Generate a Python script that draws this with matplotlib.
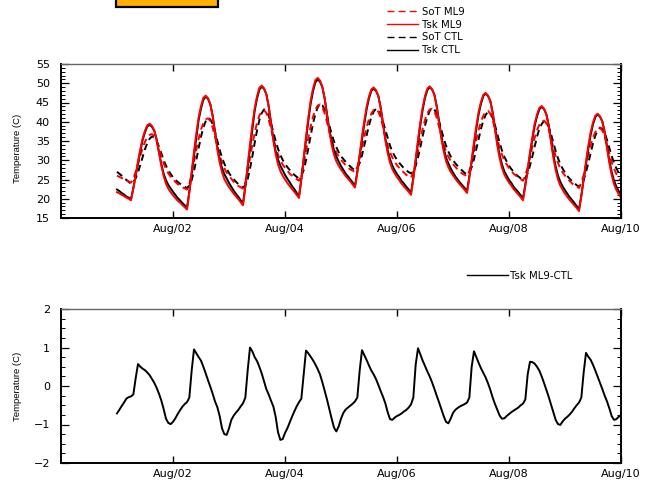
import numpy as np
import pandas as pd
import matplotlib
matplotlib.use("Agg")
import matplotlib.pyplot as plt
import matplotlib.dates as mdates
from matplotlib.lines import Line2D
from matplotlib.patches import Rectangle
from matplotlib.ticker import MultipleLocator

# ---------------- data (hourly, Aug 01 00:00 -> Aug 10 00:00) ----------------
times = pd.date_range("2010-08-01 00:00", "2010-08-10 00:00", freq="h")

tsk_ml9 = [
    21.7, 21.4, 21.0, 20.7, 20.3, 20.0, 19.6, 22.6, 26.2, 29.7, 32.9, 35.7, 37.7, 39.1, 39.5, 38.9, 37.7, 35.3, 31.9, 28.6, 25.9, 23.9, 22.6, 21.7,
    20.9, 20.2, 19.5, 19.0, 18.4, 17.8, 17.2, 21.6, 27.0, 32.3, 37.0, 41.2, 44.1, 46.2, 46.8, 46.1, 44.5, 41.4, 37.1, 32.8, 29.4, 26.9, 25.1, 24.0,
    23.0, 22.2, 21.3, 20.6, 19.9, 19.1, 18.3, 23.0, 28.6, 34.2, 39.1, 43.5, 46.6, 48.8, 49.4, 48.7, 47.1, 43.9, 39.5, 35.1, 31.6, 29.0, 27.2, 26.0,
    25.0, 24.1, 23.3, 22.5, 21.8, 21.0, 20.2, 24.9, 30.5, 36.1, 41.1, 45.5, 48.6, 50.8, 51.4, 50.7, 49.1, 46.0, 41.7, 37.4, 34.0, 31.5, 29.7, 28.6,
    27.6, 26.8, 25.9, 25.2, 24.5, 23.7, 22.9, 26.8, 31.5, 36.2, 40.3, 44.0, 46.6, 48.4, 48.9, 48.2, 46.7, 43.6, 39.4, 35.2, 31.9, 29.4, 27.7, 26.6,
    25.6, 24.8, 23.9, 23.2, 22.5, 21.8, 21.0, 25.2, 30.3, 35.4, 39.9, 43.8, 46.7, 48.6, 49.2, 48.5, 47.0, 43.9, 39.8, 35.6, 32.3, 29.8, 28.2, 27.0,
    26.1, 25.2, 24.4, 23.7, 23.0, 22.3, 21.5, 25.4, 30.1, 34.8, 38.9, 42.6, 45.2, 47.0, 47.5, 46.8, 45.3, 42.2, 38.0, 33.8, 30.5, 28.0, 26.3, 25.2,
    24.2, 23.4, 22.5, 21.8, 21.1, 20.4, 19.6, 23.3, 27.7, 32.1, 36.0, 39.5, 41.9, 43.6, 44.1, 43.4, 41.9, 38.9, 34.8, 30.7, 27.5, 25.0, 23.4, 22.3,
    21.3, 20.5, 19.7, 19.0, 18.3, 17.6, 16.8, 20.6, 25.2, 29.7, 33.8, 37.3, 39.8, 41.6, 42.1, 41.4, 40.0, 37.1, 33.2, 29.3, 26.2, 23.8, 22.3, 21.2,
    20.3,
]

tsk_ctl = [
    22.4, 22.0, 21.5, 21.1, 20.6, 20.3, 19.9, 22.8, 26.0, 29.1, 32.4, 35.3, 37.3, 38.8, 39.2, 38.7, 37.6, 35.4, 32.1, 29.0, 26.5, 24.8, 23.6, 22.7,
    21.8, 21.0, 20.2, 19.6, 18.9, 18.3, 17.6, 21.9, 26.6, 31.4, 36.2, 40.5, 43.4, 45.7, 46.5, 46.0, 44.5, 41.6, 37.5, 33.4, 30.2, 28.0, 26.4, 25.3,
    24.1, 23.1, 22.1, 21.3, 20.5, 19.6, 18.8, 23.3, 28.2, 33.2, 38.2, 42.8, 46.0, 48.3, 49.1, 48.6, 47.2, 44.1, 39.9, 35.6, 32.4, 30.2, 28.6, 27.4,
    26.2, 25.2, 24.3, 23.3, 22.5, 21.5, 20.6, 25.2, 30.2, 35.2, 40.3, 44.7, 47.9, 50.2, 51.0, 50.4, 49.0, 46.1, 42.1, 38.0, 34.9, 32.6, 30.9, 29.7,
    28.5, 27.5, 26.5, 25.8, 25.0, 24.2, 23.3, 27.1, 31.1, 35.3, 39.5, 43.3, 46.1, 48.0, 48.6, 48.0, 46.7, 43.7, 39.7, 35.6, 32.6, 30.3, 28.6, 27.4,
    26.4, 25.6, 24.6, 23.9, 23.1, 22.4, 21.5, 25.5, 29.8, 34.4, 39.1, 43.1, 46.2, 48.2, 49.0, 48.4, 47.1, 44.2, 40.2, 36.2, 33.1, 30.7, 29.2, 27.9,
    26.8, 25.8, 25.0, 24.2, 23.5, 22.8, 21.9, 25.7, 29.6, 33.9, 38.2, 42.0, 44.7, 46.7, 47.3, 46.7, 45.4, 42.5, 38.5, 34.4, 31.3, 28.9, 27.1, 26.0,
    24.9, 24.1, 23.1, 22.4, 21.7, 20.9, 20.1, 23.7, 27.4, 31.5, 35.4, 38.9, 41.4, 43.2, 43.9, 43.3, 42.0, 39.2, 35.3, 31.4, 28.4, 26.0, 24.4, 23.2,
    22.2, 21.3, 20.4, 19.7, 18.9, 18.1, 17.2, 20.9, 24.9, 28.8, 33.0, 36.6, 39.3, 41.2, 41.9, 41.3, 40.1, 37.4, 33.6, 29.9, 27.0, 24.7, 23.2, 22.0,
    21.1,
]

sot_ml9 = [
    26.0, 25.7, 25.4, 25.1, 24.8, 24.5, 24.2, 25.2, 27.0, 29.1, 31.3, 33.2, 34.8, 36.0, 36.6, 36.8, 36.2, 34.9, 33.1, 31.0, 29.2, 27.7, 26.6, 25.7,
    25.0, 24.4, 23.8, 23.4, 23.0, 22.7, 22.4, 23.9, 26.5, 29.7, 32.8, 35.6, 38.0, 39.6, 40.6, 40.9, 40.2, 38.5, 36.1, 33.6, 31.2, 29.4, 27.9, 26.8,
    25.9, 25.2, 24.4, 23.9, 23.3, 23.0, 22.6, 24.2, 27.1, 30.5, 34.0, 37.1, 39.7, 41.6, 42.7, 43.0, 42.3, 40.6, 38.2, 35.7, 33.3, 31.5, 30.0, 28.9,
    28.0, 27.3, 26.5, 26.0, 25.4, 25.1, 24.7, 26.3, 29.1, 32.4, 35.8, 38.8, 41.3, 43.1, 44.2, 44.5, 43.8, 42.2, 39.9, 37.5, 35.2, 33.4, 32.0, 31.0,
    30.1, 29.4, 28.7, 28.1, 27.6, 27.3, 26.9, 28.3, 30.5, 33.3, 36.1, 38.6, 40.7, 42.1, 43.1, 43.3, 42.6, 41.0, 38.7, 36.2, 33.9, 32.1, 30.7, 29.6,
    28.7, 28.0, 27.3, 26.8, 26.2, 25.9, 25.5, 27.0, 29.5, 32.4, 35.5, 38.2, 40.5, 42.2, 43.2, 43.4, 42.7, 41.1, 38.8, 36.4, 34.1, 32.3, 30.9, 29.9,
    29.0, 28.3, 27.6, 27.0, 26.5, 26.2, 25.8, 27.2, 29.5, 32.4, 35.3, 37.9, 40.1, 41.6, 42.6, 42.8, 42.1, 40.5, 38.1, 35.6, 33.2, 31.4, 30.0, 28.9,
    28.0, 27.2, 26.5, 26.0, 25.4, 25.1, 24.7, 26.0, 28.1, 30.8, 33.5, 35.8, 37.8, 39.2, 40.1, 40.3, 39.6, 38.0, 35.8, 33.3, 31.0, 29.3, 27.9, 26.8,
    26.0, 25.3, 24.6, 24.0, 23.5, 23.2, 22.8, 24.1, 26.2, 28.9, 31.6, 33.9, 35.9, 37.3, 38.2, 38.4, 37.7, 36.2, 34.0, 31.7, 29.5, 27.8, 26.5, 25.5,
    24.6,
]

sot_ctl = [
    27.0, 26.5, 26.0, 25.4, 24.9, 24.4, 23.9, 24.3, 25.3, 26.9, 28.8, 30.9, 32.9, 34.5, 35.6, 36.2, 35.9, 35.0, 33.5, 31.8, 30.0, 28.6, 27.4, 26.4,
    25.6, 24.9, 24.4, 23.9, 23.5, 23.1, 22.8, 23.4, 24.8, 27.2, 30.1, 33.2, 36.1, 38.5, 40.1, 41.0, 40.6, 39.4, 37.4, 35.0, 32.7, 30.7, 29.1, 27.8,
    26.7, 25.8, 25.1, 24.4, 23.8, 23.3, 22.9, 23.5, 25.1, 27.8, 31.0, 34.5, 37.7, 40.4, 42.2, 43.2, 42.8, 41.6, 39.6, 37.3, 35.0, 33.0, 31.4, 30.1,
    29.1, 28.2, 27.5, 26.7, 26.2, 25.7, 25.3, 25.9, 27.4, 30.0, 33.1, 36.4, 39.5, 42.0, 43.7, 44.7, 44.3, 43.2, 41.3, 39.0, 36.8, 34.9, 33.4, 32.1,
    31.1, 30.3, 29.6, 28.9, 28.4, 27.8, 27.5, 28.0, 29.3, 31.3, 33.9, 36.6, 39.1, 41.2, 42.6, 43.4, 43.0, 41.9, 40.0, 37.9, 35.7, 33.8, 32.3, 31.1,
    30.1, 29.3, 28.6, 27.9, 27.4, 26.9, 26.6, 27.1, 28.5, 30.7, 33.4, 36.3, 39.0, 41.2, 42.8, 43.6, 43.2, 42.1, 40.2, 37.9, 35.7, 33.8, 32.3, 31.0,
    30.0, 29.2, 28.5, 27.8, 27.3, 26.7, 26.4, 26.9, 28.2, 30.3, 32.9, 35.6, 38.2, 40.3, 41.8, 42.6, 42.2, 41.0, 39.1, 36.8, 34.5, 32.5, 30.9, 29.7,
    28.6, 27.7, 27.0, 26.3, 25.8, 25.3, 24.9, 25.4, 26.6, 28.6, 31.0, 33.6, 36.1, 38.1, 39.4, 40.2, 39.8, 38.7, 36.8, 34.6, 32.4, 30.5, 29.0, 27.8,
    26.8, 25.9, 25.2, 24.6, 24.1, 23.5, 23.2, 23.7, 24.9, 26.9, 29.3, 31.9, 34.4, 36.4, 37.7, 38.5, 38.1, 37.1, 35.3, 33.2, 31.1, 29.3, 27.9, 26.8,
    25.8,
]

tsk_diff = [
    -0.71, -0.62, -0.52, -0.43, -0.33, -0.29, -0.27, -0.22, 0.20, 0.57, 0.50, 0.45, 0.41, 0.35, 0.28, 0.18, 0.08, -0.05, -0.20, -0.38, -0.60, -0.85, -0.96, -0.99,
    -0.93, -0.84, -0.73, -0.63, -0.54, -0.47, -0.42, -0.30, 0.40, 0.95, 0.85, 0.75, 0.66, 0.50, 0.33, 0.15, -0.02, -0.20, -0.40, -0.55, -0.78, -1.10, -1.25, -1.27,
    -1.10, -0.88, -0.77, -0.69, -0.62, -0.53, -0.45, -0.30, 0.40, 1.00, 0.90, 0.75, 0.65, 0.50, 0.33, 0.12, -0.08, -0.22, -0.38, -0.53, -0.80, -1.20, -1.40, -1.38,
    -1.22, -1.10, -0.95, -0.80, -0.66, -0.53, -0.42, -0.33, 0.30, 0.92, 0.85, 0.76, 0.67, 0.56, 0.44, 0.30, 0.10, -0.12, -0.35, -0.60, -0.85, -1.08, -1.18, -1.05,
    -0.85, -0.70, -0.61, -0.56, -0.51, -0.46, -0.40, -0.30, 0.40, 0.93, 0.80, 0.67, 0.53, 0.40, 0.30, 0.18, 0.03, -0.13, -0.28, -0.45, -0.68, -0.86, -0.88, -0.82,
    -0.78, -0.75, -0.71, -0.66, -0.62, -0.56, -0.48, -0.30, 0.55, 0.98, 0.82, 0.66, 0.52, 0.38, 0.25, 0.10, -0.07, -0.25, -0.42, -0.60, -0.78, -0.93, -0.97, -0.85,
    -0.70, -0.62, -0.57, -0.53, -0.50, -0.47, -0.43, -0.30, 0.50, 0.90, 0.75, 0.60, 0.46, 0.34, 0.22, 0.07, -0.10, -0.30, -0.47, -0.62, -0.77, -0.85, -0.84, -0.78,
    -0.73, -0.68, -0.64, -0.60, -0.56, -0.50, -0.46, -0.35, 0.30, 0.63, 0.62, 0.58, 0.50, 0.40, 0.25, 0.08, -0.10, -0.28, -0.48, -0.68, -0.88, -0.99, -1.01, -0.92,
    -0.85, -0.80, -0.74, -0.67, -0.58, -0.50, -0.43, -0.30, 0.35, 0.86, 0.76, 0.68, 0.55, 0.40, 0.24, 0.08, -0.08, -0.25, -0.40, -0.58, -0.78, -0.88, -0.86, -0.80,
    -0.75,
]

top_labels = ["SoT ML9", "Tsk ML9", "SoT CTL", "Tsk CTL"]
bottom_label = "Tsk ML9-CTL"
ylabel = "Temperature (C)"
xlim = (pd.Timestamp("2010-07-31"), pd.Timestamp("2010-08-10"))
xticks = pd.date_range("2010-08-02", "2010-08-10", freq="2D")

# ---------------- figure ----------------
W, H = 649, 480
fig = plt.figure(figsize=(W / 100, H / 100), dpi=100)
fig.patch.set_facecolor("white")

TICK_FAMILY = ["DejaVu Sans"]
TICK_SIZE = 8.0
LW = 1.4
DASH = (3.4, 2.3)

ax1 = fig.add_axes([61 / W, 1 - 218 / H, 560 / W, 154 / H])
ax2 = fig.add_axes([61 / W, 1 - 463 / H, 560 / W, 154 / H])

l_sot_ctl, = ax1.plot(times, sot_ctl, color="black", lw=LW, dashes=DASH)
l_sot_ml9, = ax1.plot(times, sot_ml9, color="red", lw=LW, dashes=DASH)
l_tsk_ctl, = ax1.plot(times, tsk_ctl, color="black", lw=LW)
l_tsk_ml9, = ax1.plot(times, tsk_ml9, color="red", lw=LW)

l_diff, = ax2.plot(times, tsk_diff, color="black", lw=LW)

def style(ax, ylim, major, minor, label_y):
    ax.set_xlim(*xlim)
    ax.set_ylim(*ylim)
    ax.set_xticks(xticks)
    ax.xaxis.set_major_formatter(mdates.DateFormatter("%b/%d"))
    ax.yaxis.set_major_locator(MultipleLocator(major))
    ax.yaxis.set_minor_locator(MultipleLocator(minor))
    ax.tick_params(axis="x", which="major", direction="in", top=True, bottom=True,
                   length=5, width=1.0, pad=4, labelsize=TICK_SIZE)
    ax.tick_params(axis="y", which="major", direction="in", left=True, right=True,
                   length=6, width=0.9, pad=8, labelsize=TICK_SIZE)
    ax.tick_params(axis="y", which="minor", direction="in", left=True, right=True,
                   length=3, width=0.7)
    for lab in ax.get_xticklabels() + ax.get_yticklabels():
        lab.set_family(TICK_FAMILY)
    for side in ["left", "bottom", "right"]:
        ax.spines[side].set_linewidth(1.4)
        ax.spines[side].set_color("black")
    ax.spines["top"].set_linewidth(1.0)
    ax.spines["top"].set_color("#666666")
    ax.set_ylabel(ylabel, family=["Liberation Sans", "DejaVu Sans"], fontsize=6.8)
    ax.yaxis.set_label_coords(-0.069, label_y)

style(ax1, (15, 55), 5, 1, 0.45)
style(ax2, (-2, 2), 1, 0.25, 0.5)

# orange title box (partly cut at the top edge)
fig.patches.append(Rectangle((116 / W, 1 - 7 / H), 102 / W, 20 / H,
                             transform=fig.transFigure, facecolor="#FFB000",
                             edgecolor="black", linewidth=1.6, clip_on=False))

# legends
h_top = [Line2D([], [], color="red", lw=1.0, dashes=(5, 3)),
         Line2D([], [], color="red", lw=1.0),
         Line2D([], [], color="black", lw=1.0, dashes=(5, 3)),
         Line2D([], [], color="black", lw=1.0)]
fig.legend(h_top, top_labels, loc="upper left", bbox_to_anchor=(387 / W, 1 - 7 / H),
           bbox_transform=fig.transFigure, frameon=False,
           handlelength=3.05, handletextpad=0.4, labelspacing=0.27,
           borderpad=0, borderaxespad=0, prop=dict(family="DejaVu Sans", size=7.3))

fig.legend([Line2D([], [], color="black", lw=1.0)], [bottom_label], loc="upper left",
           bbox_to_anchor=(467 / W, 1 - 271 / H), bbox_transform=fig.transFigure,
           frameon=False, handlelength=4.05, handletextpad=0.2, borderpad=0,
           borderaxespad=0, prop=dict(family="DejaVu Sans", size=7.3))

fig.savefig("out.png", dpi=100)
